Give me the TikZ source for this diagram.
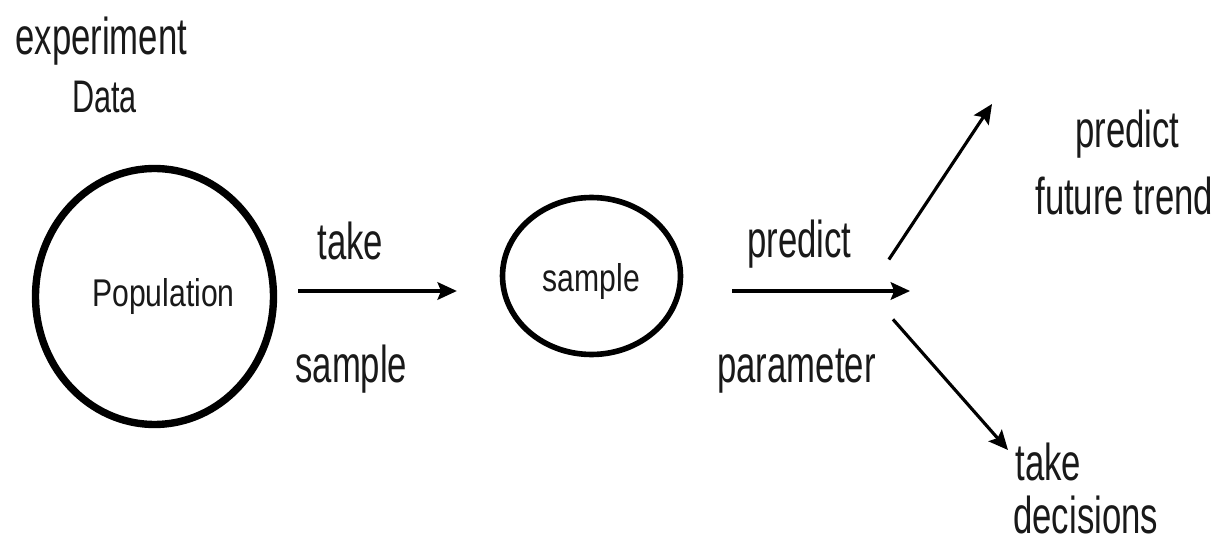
\documentclass[tikz,border=0pt]{standalone}
\usepackage{fontspec}
\setmainfont{Liberation Sans}[FakeStretch=0.67]
\newfontfamily\ringfont{Liberation Sans}[FakeStretch=0.78]
\usetikzlibrary{arrows.meta,shapes.geometric}
\tikzset{
	lbl/.style={inner sep=0pt, anchor=base west, text=black!90, font=\fontsize{29.5}{31}\selectfont},
	ring/.style={draw, ellipse, inner sep=0pt, text=black!90, font=\ringfont\fontsize{22}{24}\selectfont},
	arr/.style={line width=1.8pt, -{Stealth[length=11pt,width=10pt,inset=2pt]}},
}

\begin{document}
\begin{tikzpicture}[x=0.02cm, y=-0.02cm]
			\useasboundingbox (0, 0) rectangle (1226, 553);
			%%%%% START %%%%%
			
			\node[lbl] (exp) at (15, 55) {experiment};
			\node[lbl, font=\fontsize{26}{28}\selectfont] (data) at (72, 113) {Data};
			
			\node[ring, line width=4.2pt, minimum width=4.76cm, minimum height=5.12cm] (pop) at (154.5, 296.5) {\hspace*{0.36cm}Population};
			\node[ring, line width=3.2pt, minimum width=3.56cm, minimum height=3.14cm] (smp) at (591.5, 276) {\raisebox{-0.32cm}[0pt][0pt]{sample}};
			
			\node[lbl] (take) at (317, 260) {take};
			\node[lbl] (sampletxt) at (295, 382) {sample};
			\node[lbl] (pred) at (747, 258) {predict};
			\node[lbl] (param) at (717, 382) {parameter};
			
			\node[lbl] (pred2) at (1075, 148) {predict};
			\node[lbl] (trend) at (1035, 215) {future trend};
			\node[lbl] (take2) at (1015, 480) {take};
			\node[lbl] (deci) at (1013, 533) {decisions};
			
			% fork and free arrow ends
			\coordinate (hub) at (868, 291);
			\coordinate (predtip) at (910, 291);
			\coordinate (trendtip) at (992, 104);
			\coordinate (decitip) at (1008, 450);
			
			\draw[arr, shorten <=11.9pt, shorten >=24.4pt] (pop.east |- hub) -- (smp.west |- hub);
			\draw[arr, shorten <=27.8pt] (smp.east |- hub) -- (predtip);
			\draw[arr, shorten <=21.5pt] (hub) -- (trendtip);
			\draw[arr, shorten <=21.5pt] (hub) -- (decitip);
			
			%%%%% END %%%%%
\end{tikzpicture}
\end{document}
